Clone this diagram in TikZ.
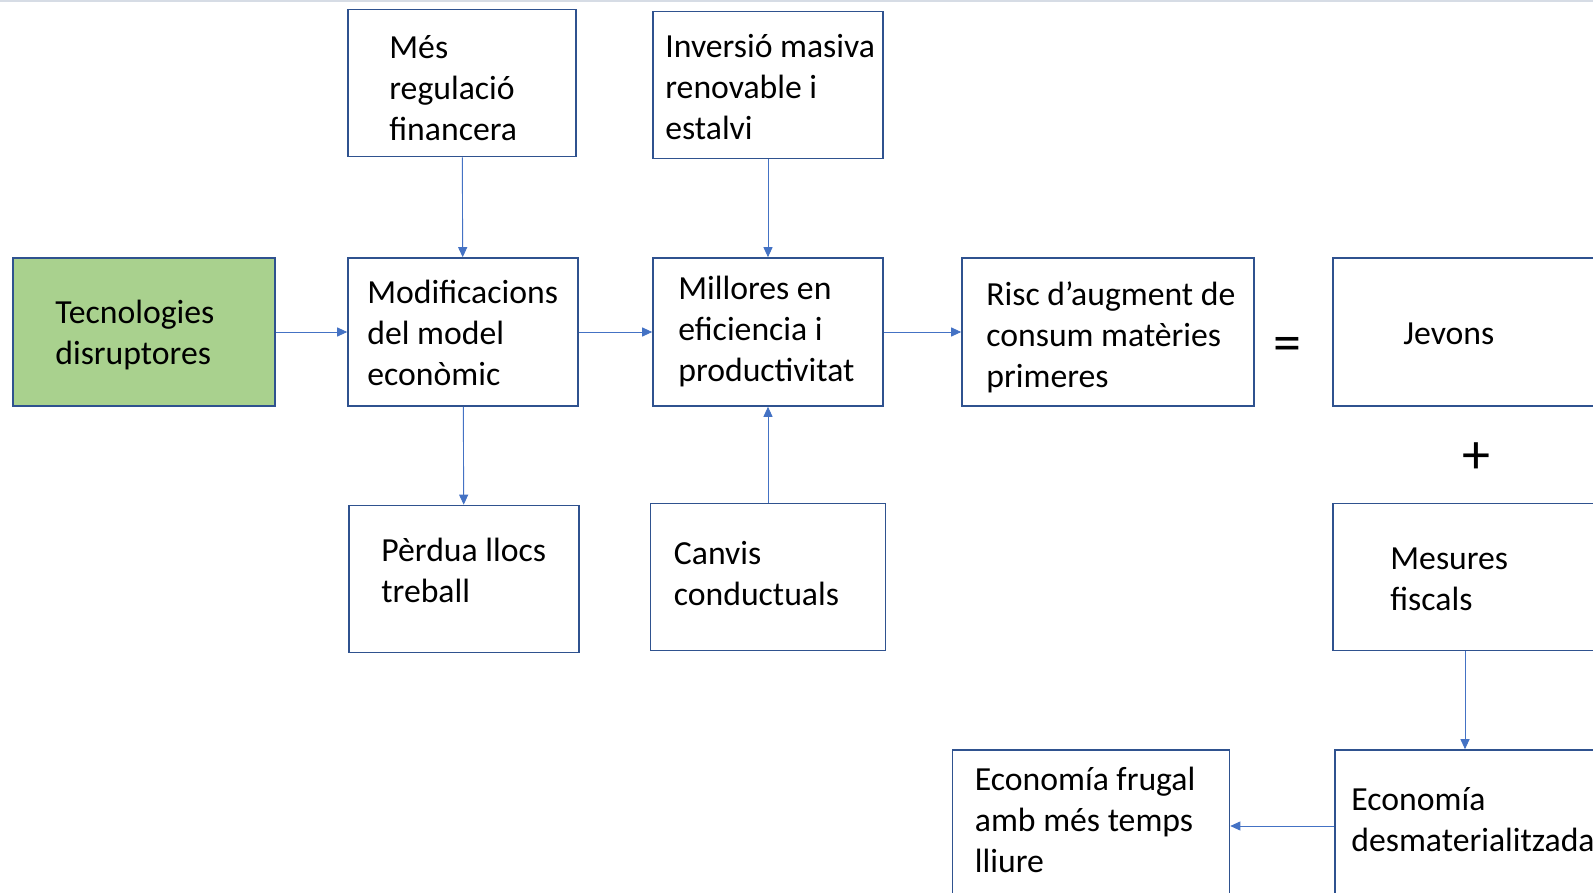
\documentclass[tikz,border=0pt]{standalone}
\usepackage{fontspec}
\setmainfont{Carlito}
\usetikzlibrary{arrows.meta}
\definecolor{vora}{HTML}{2F528F}
\definecolor{fletxa}{HTML}{4472C4}
\definecolor{verd}{HTML}{A9D18E}
\definecolor{marc}{HTML}{D6DCE5}
\tikzset{every label/.style={align=left,inner sep=0pt,anchor=west,font=\fontsize{33.7}{41}\selectfont}}

\begin{document}
\begin{tikzpicture}[
            x=1pt,y=-1pt,
            font=\fontsize{33.7}{41}\selectfont,
            caixa/.style={draw=vora,line width=1.6pt,fill=white,inner sep=0pt},
            arrow/.style={draw=fletxa,line width=0.9pt,-{Triangle[length=10pt,width=9pt]}},
            signe/.style={inner sep=0pt,font=\fontsize{56}{60}\selectfont}
            ]
            \useasboundingbox (0,0) rectangle (1593,893);
            \draw[marc,line width=2pt] (0,1) -- (1593,1);
            \node[caixa,fill=verd,minimum width=262,minimum height=148,label={[xshift=43,yshift=-3]west:{Tecnologies\\disruptores}}] (tec) at (144,332) {};
            \node[caixa,minimum width=228,minimum height=147,label={[xshift=42,yshift=-5]west:{Més\\regulació\\financera}}] (mes) at (462,83) {};
            \node[caixa,minimum width=230,minimum height=147,label={[xshift=13,yshift=-2]west:{Inversió masiva\\renovable i\\estalvi}}] (inv) at (768,85) {};
            \node[caixa,minimum width=230,minimum height=148,label={[xshift=20,yshift=-1]west:{Modificacions\\del model\\econòmic}}] (mod) at (463,332) {};
            \node[caixa,minimum width=230,minimum height=148,label={[xshift=26,yshift=0]west:{Millores en\\eficiencia i\\productivitat}}] (mill) at (768,332) {};
            \node[caixa,minimum width=292,minimum height=148,label={[xshift=25,yshift=-5]west:{Risc d’augment de\\consum matèries\\primeres}}] (risc) at (1108,332) {};
            \node[caixa,minimum width=264,minimum height=148,label={[xshift=71,yshift=-2]west:{Jevons}}] (jevons) at (1465,332) {};
            \node[caixa,minimum width=264,minimum height=147,label={[xshift=58,yshift=-2]west:{Mesures\\fiscals}}] (mesures) at (1465,577) {};
            \node[caixa,minimum width=230,minimum height=147,label={[xshift=33,yshift=9]west:{Pèrdua llocs\\treball}}] (perdua) at (464,579) {};
            \node[caixa,minimum width=235,minimum height=147,label={[xshift=24,yshift=3]west:{Canvis\\conductuals}}] (canvis) at (768,577) {};
            \node[caixa,minimum width=277,minimum height=152,label={[xshift=23,yshift=6]west:{Economía frugal\\amb més temps\\lliure}}] (frugal) at (1091,826) {};
            \node[caixa,minimum width=262,minimum height=152,label={[xshift=17,yshift=6]west:{Economía\\desmaterialitzada}}] (desmat) at (1466,826) {};
            \node[signe] (igual) at (1287,349) {=};
            \node[signe] (suma) at (1476,458) {+};
            \draw[arrow] (tec) -- (mod);
            \draw[arrow] (mod) -- (mill);
            \draw[arrow] (mill) -- (risc);
            \draw[arrow] (mes) -- (mod);
            \draw[arrow] (inv) -- (mill);
            \draw[arrow] (mod) -- (perdua);
            \draw[arrow] (canvis) -- (mill);
            \draw[arrow] (mesures.south) -- (mesures.south |- desmat.north);
            \draw[arrow] (desmat) -- (frugal);
\end{tikzpicture}
\end{document}
